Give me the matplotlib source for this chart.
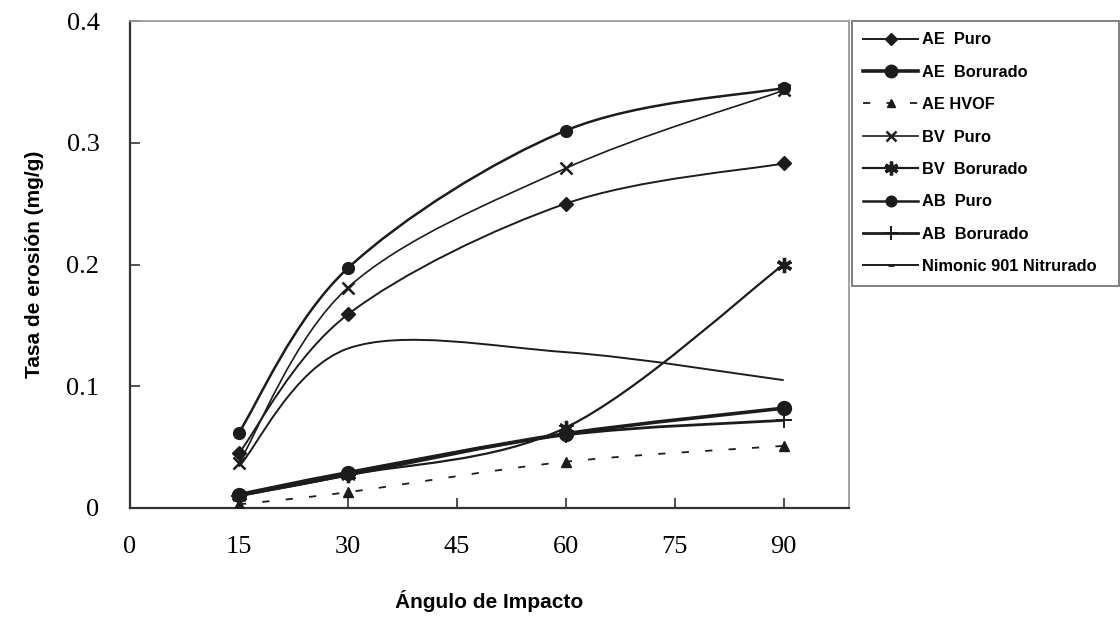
import matplotlib.pyplot as plt
from matplotlib.path import Path
from matplotlib.patches import PathPatch
from matplotlib.lines import Line2D

# --- Data: erosion rate (mg/g) vs impact angle ---
angles = [15, 30, 60, 90]
ae_puro = [0.045, 0.159, 0.250, 0.283]
ae_borurado = [0.011, 0.029, 0.061, 0.082]
ae_hvof = [0.003, 0.013, 0.038, 0.051]
bv_puro = [0.037, 0.181, 0.279, 0.343]
bv_borurado = [0.010, 0.027, 0.066, 0.200]
ab_puro = [0.062, 0.197, 0.310, 0.345]
ab_borurado = [0.010, 0.027, 0.060, 0.072]
nimonic = [0.034, 0.131, 0.128, 0.105]

labels = ["AE  Puro", "AE  Borurado", "AE HVOF", "BV  Puro", "BV  Borurado",
          "AB  Puro", "AB  Borurado", "Nimonic 901 Nitrurado"]
x_ticks = [0, 15, 30, 45, 60, 75, 90]
y_ticks = [0, 0.1, 0.2, 0.3, 0.4]
y_tick_labels = ["0", "0.1", "0.2", "0.3", "0.4"]

INK = "#1c1c1c"
label_font = ["Liberation Sans", "DejaVu Sans"]
tick_font = ["Liberation Serif", "DejaVu Serif"]


def smooth_path(xs, ys):
    # spreadsheet-style smoothed line: cubic bezier through every point
    pts = list(zip(xs, ys))
    n = len(pts)
    verts = [pts[0]]
    codes = [Path.MOVETO]
    for i in range(n - 1):
        p0 = pts[i - 1] if i > 0 else pts[i]
        p1 = pts[i]
        p2 = pts[i + 1]
        p3 = pts[i + 2] if i + 2 < n else pts[i + 1]
        c1 = (p1[0] + (p2[0] - p0[0]) / 6, p1[1] + (p2[1] - p0[1]) / 6)
        c2 = (p2[0] - (p3[0] - p1[0]) / 6, p2[1] - (p3[1] - p1[1]) / 6)
        verts += [c1, c2, p2]
        codes += [Path.CURVE4] * 3
    return Path(verts, codes)


series = [
    (ae_puro, dict(marker="D", ms=7, lw=1.4, ls="-")),
    (ae_borurado, dict(marker="o", ms=10, lw=2.6, ls="-")),
    (ae_hvof, dict(marker="^", ms=7, lw=1.3, ls=(0, (4, 9)))),
    (bv_puro, dict(marker="x", ms=8, lw=1.2, ls="-", mew=1.8)),
    (bv_borurado, dict(marker=(6, 2, 0), ms=11, lw=1.6, ls="-", mew=2.4)),
    (ab_puro, dict(marker="o", ms=8.5, lw=1.8, ls="-")),
    (ab_borurado, dict(marker="+", ms=11, lw=2.0, ls="-", mew=1.4)),
    (nimonic, dict(marker="_", ms=5, lw=1.4, ls="-", mew=2)),
]

fig = plt.figure(figsize=(11.2, 6.22), dpi=100)
ax = fig.add_axes([130 / 1120, 1 - 508 / 622, (849 - 130) / 1120, (508 - 21) / 622])

handles = []
for i, (vals, st) in enumerate(series):
    patch = PathPatch(smooth_path(angles, vals), fill=False, edgecolor=INK,
                      lw=st["lw"], linestyle=st["ls"], zorder=2)
    ax.add_patch(patch)
    if i != len(series) - 1:
        ax.plot(angles, vals, linestyle="none", marker=st["marker"], ms=st["ms"],
                color=INK, mec=INK, mew=st.get("mew", 1.0), zorder=3)
    handles.append(Line2D([], [], color=INK, lw=st["lw"], linestyle=st["ls"],
                          marker=st["marker"], ms=st["ms"] * 0.9,
                          mew=st.get("mew", 1.0), mec=INK))

ax.set_xlim(0, 99)
ax.set_ylim(0, 0.4)
ax.set_xticks(x_ticks)
ax.set_yticks(y_ticks)
ax.set_xticklabels([str(t) for t in x_ticks], family=tick_font, fontsize=19)
ax.set_yticklabels(y_tick_labels, family=tick_font, fontsize=19)
ax.tick_params(direction="in", length=7, width=1.2, color="#333333", pad=22)
ax.tick_params(axis="x", pad=20)

for side in ("left", "bottom"):
    ax.spines[side].set_color("#333333")
    ax.spines[side].set_linewidth(1.6)
for side in ("top", "right"):
    ax.spines[side].set_color("#9a9a9a")
    ax.spines[side].set_linewidth(1.3)

ax.set_xlabel("Ángulo de Impacto", family=label_font, fontweight="bold",
              fontsize=15, labelpad=23)
ax.set_ylabel("Tasa de erosión (mg/g)", family=label_font, fontweight="bold",
              fontsize=15, labelpad=16)

leg = fig.legend(handles, labels, loc="upper left",
                 bbox_to_anchor=(852 / 1120, 1 - 21 / 622 - 0.01, (1119 - 852) / 1120, 0.01),
                 mode="expand", borderaxespad=0, frameon=True, fancybox=False,
                 handlelength=3.3, handletextpad=0.25, labelspacing=1.06,
                 borderpad=0.7, prop=dict(family=label_font, weight="bold", size=11.8))
leg.get_frame().set_edgecolor("#555555")
leg.get_frame().set_linewidth(1.3)

fig.savefig("out.png", dpi=100)
